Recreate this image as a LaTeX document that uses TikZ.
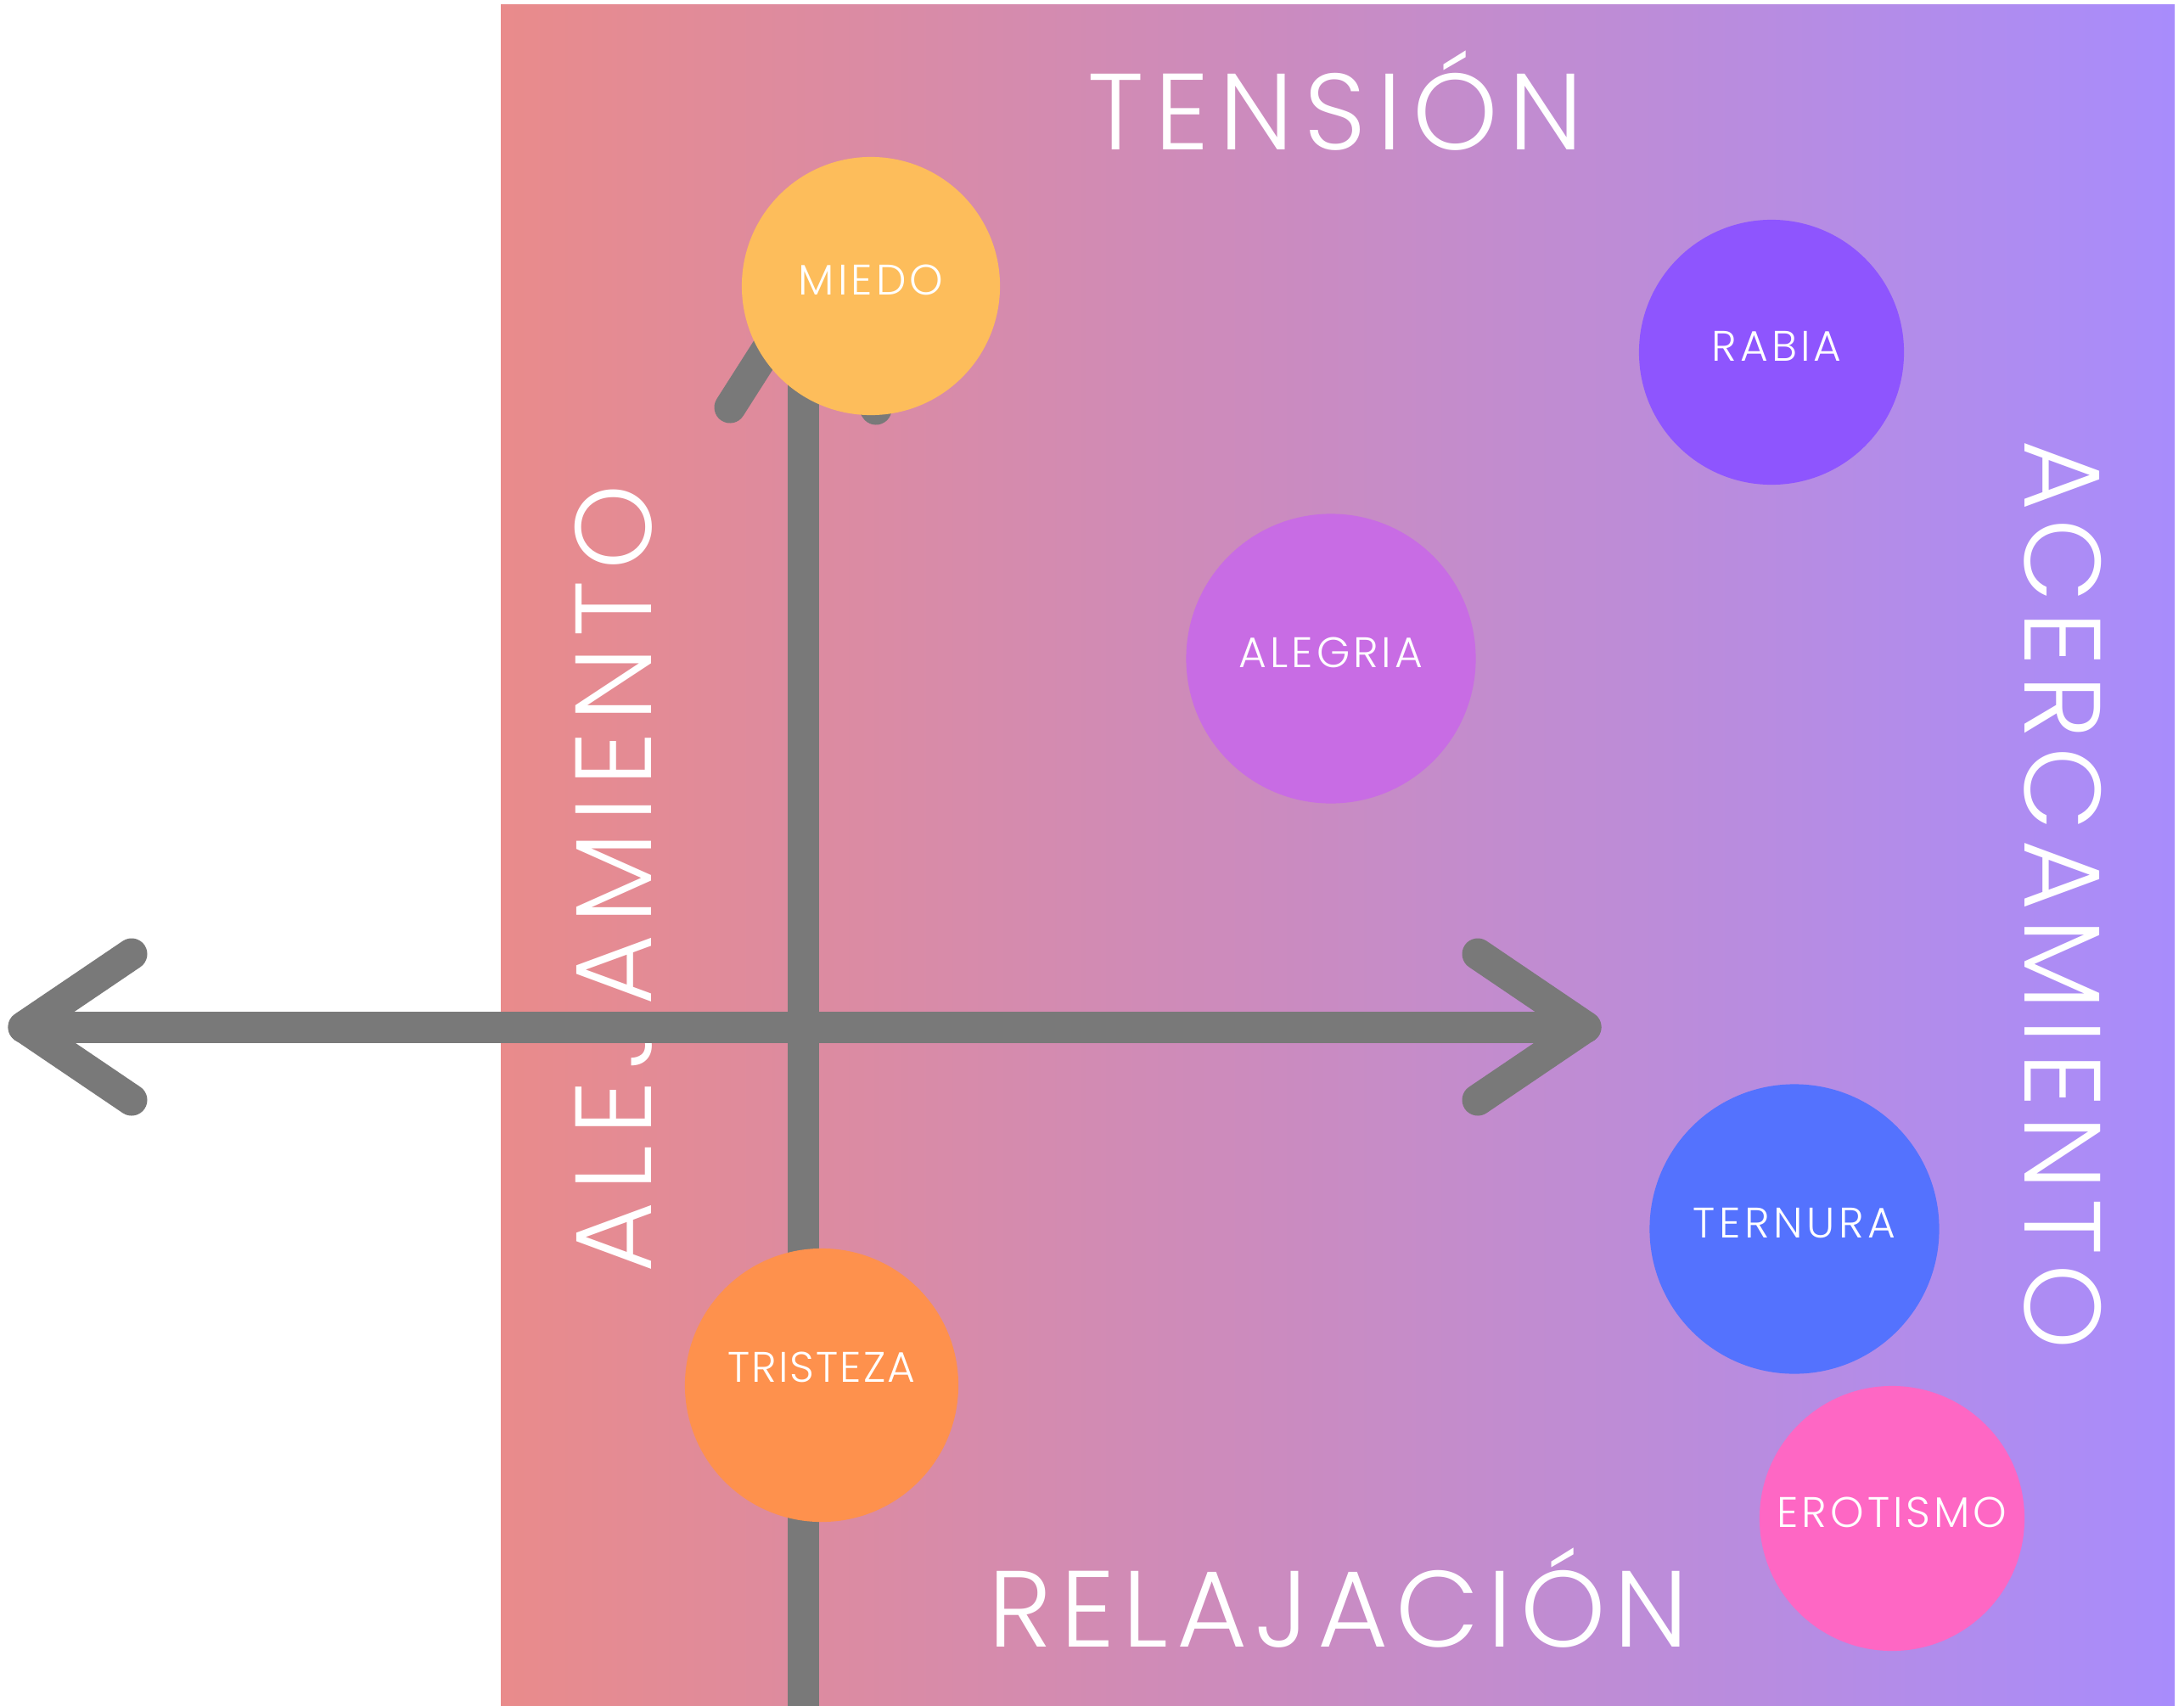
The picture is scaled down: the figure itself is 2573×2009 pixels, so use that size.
\documentclass[tikz,border=0pt]{standalone}
\usepackage{fontspec}
\setmainfont{Poppins}[UprightFont={* Light}]
\definecolor{gradleft}{RGB}{233,139,139}
\definecolor{gradright}{RGB}{168,140,252}
\definecolor{axisgray}{RGB}{121,121,121}
\definecolor{cmiedo}{RGB}{253,189,91}
\definecolor{crabia}{RGB}{142,85,254}
\definecolor{calegria}{RGB}{200,108,228}
\definecolor{ctristeza}{RGB}{254,145,77}
\definecolor{cternura}{RGB}{84,114,254}
\definecolor{cerotismo}{RGB}{254,103,196}
\begin{document}
\begin{tikzpicture}[x=0.01cm,y=-0.01cm,
  axisline/.style={draw=axisgray, line width=0.37cm, line cap=round, line join=round},
  bigtext/.style={text=white, inner sep=0pt, anchor=base, font=\fontsize{36.3pt}{40pt}\selectfont},
  emo/.style={circle, inner sep=0pt, text=white, text depth=0.14cm, font=\fontsize{14.3pt}{17pt}\selectfont\addfontfeature{LetterSpace=8}}]
\useasboundingbox (0,0) rectangle (2573,2009);
\shade[left color=gradleft, right color=gradright] (590,6) rectangle (2562,2009);
% side labels
\node[bigtext, rotate=90] (alej) at (767,1035) {\addfontfeature{LetterSpace=9.8}ALEJAMIENTO};
\node[bigtext, rotate=-90] (acer) at (2385,1054) {\addfontfeature{LetterSpace=8.1}ACERCAMIENTO};
\node[bigtext] (tension) at (1573,177) {\addfontfeature{LetterSpace=9.8}TENSIÓN};
\node[bigtext] (relaj) at (1577,1940) {\addfontfeature{LetterSpace=7.5}RELAJACIÓN};
% axes
\coordinate (hl) at (28,1210);
\coordinate (hlu) at (155,1124);
\coordinate (hld) at (155,1296);
\coordinate (hr) at (1868,1210);
\coordinate (hru) at (1741,1124);
\coordinate (hrd) at (1741,1296);
\coordinate (vt) at (946,345);
\coordinate (vtl) at (860,480);
\coordinate (vtr) at (1032,482);
\coordinate (vb) at (946,2040);
\draw[axisline] (hlu) -- (hl) -- (hld);
\draw[axisline] (hru) -- (hr) -- (hrd);
\draw[axisline] (hl) -- (hr);
\draw[axisline] (vtl) -- (vt) -- (vtr);
\draw[axisline] (vt) -- (vb);
% emotions
\node[emo, fill=cmiedo, minimum size=3.04cm] (miedo) at (1026,337) {MIEDO};
\node[emo, fill=crabia, minimum size=3.12cm] (rabia) at (2087,415) {\hspace*{0.12cm}RABIA};
\node[emo, fill=calegria, minimum size=3.41cm] (alegria) at (1568,776) {ALEGRIA};
\node[emo, fill=ctristeza, minimum size=3.22cm, text depth=0.42cm] (tristeza) at (968,1632) {\addfontfeature{LetterSpace=4}TRISTEZA};
\node[emo, fill=cternura, minimum size=3.41cm] (ternura) at (2114,1448) {\addfontfeature{LetterSpace=9}TERNURA};
\node[emo, fill=cerotismo, minimum size=3.12cm] (erotismo) at (2229,1789) {EROTISMO};
\end{tikzpicture}
\end{document}
